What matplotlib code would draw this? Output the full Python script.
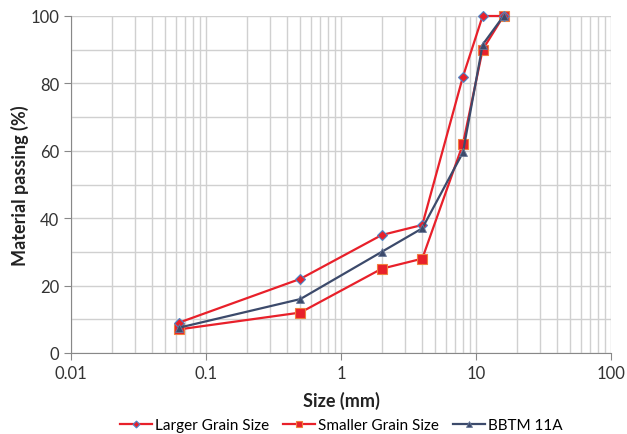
import matplotlib
matplotlib.use("Agg")
import matplotlib.pyplot as plt
from matplotlib.ticker import LogLocator, FixedLocator, NullFormatter

plt.rcParams['font.family'] = ['Lato', 'DejaVu Sans']

sizes = [0.063, 0.5, 2, 4, 8, 11.2, 16]
larger = [9, 22, 35, 38, 82, 100, 100]
smaller = [7, 12, 25, 28, 62, 90, 100]
bbtm = [7.5, 16, 30, 37, 59.5, 91.5, 100]

xticks = [0.01, 0.1, 1, 10, 100]
xticklabels = ['0.01', '0.1', '1', '10', '100']
yticks = [0, 20, 40, 60, 80, 100]

fig = plt.figure(figsize=(6.27, 4.35), dpi=100)
ax = fig.add_axes([71 / 627, 1 - 354 / 435, 540 / 627, 337 / 435])

grid_c = '#d0d0d0'
ax.set_xscale('log')
ax.set_xlim(0.01, 100)
ax.set_ylim(0, 100)

ax.xaxis.set_major_locator(FixedLocator(xticks))
ax.set_xticklabels(xticklabels)
ax.xaxis.set_minor_locator(LogLocator(base=10, subs=range(2, 10)))
ax.xaxis.set_minor_formatter(NullFormatter())
ax.set_yticks(yticks)
ax.yaxis.set_minor_locator(FixedLocator(range(10, 100, 20)))

ax.grid(True, which='both', color=grid_c, linewidth=1)
ax.set_axisbelow(True)
ax.tick_params(which='major', length=5, color='#888888', labelsize=12, labelcolor='#333333', direction='out')
ax.tick_params(which='minor', length=0)
for s in ['top', 'right']:
    ax.spines[s].set_visible(False)
for s in ['left', 'bottom']:
    ax.spines[s].set_color('#888888')

ax.plot(sizes, larger, color='#e8202a', lw=1.6, marker='D', ms=5,
        mfc='#e8202a', mec='#4a86c8', mew=0.8, label='Larger Grain Size', zorder=3, clip_on=False)
ax.plot(sizes, smaller, color='#e8202a', lw=1.6, marker='s', ms=7,
        mfc='#e8202a', mec='#f08040', mew=0.8, label='Smaller Grain Size', zorder=2, clip_on=False)
ax.plot(sizes, bbtm, color='#3c4a6b', lw=1.6, marker='^', ms=6,
        mfc='#3c4a6b', mec='#6a7a9a', mew=0.6, label='BBTM 11A', zorder=4, clip_on=False)

ax.set_xlabel('Size (mm)', fontsize=13, fontweight='bold', color='#222222', labelpad=7)
ax.set_ylabel('Material passing (%)', fontsize=13, fontweight='bold', color='#222222', labelpad=1)

ax.legend(loc='center', bbox_to_anchor=(0.5, -0.215), ncol=3, frameon=False,
          fontsize=11, handlelength=2.1, columnspacing=0.9, handletextpad=0.2, markerscale=0.7)

fig.savefig('out.png', dpi=100)
